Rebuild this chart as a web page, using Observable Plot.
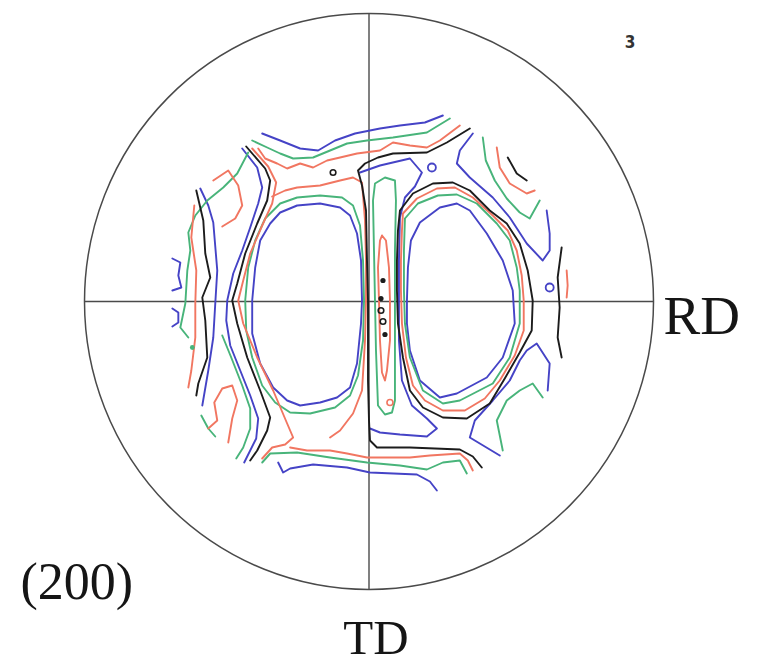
<!DOCTYPE html>
<html>
<head>
<meta charset="utf-8">
<script src="https://cdn.jsdelivr.net/npm/d3@7"></script>
<script src="https://cdn.jsdelivr.net/npm/@observablehq/plot@0.6"></script>
<style>
  html, body { margin: 0; padding: 0; background: #ffffff; }
  #chart { width: 778px; height: 664px; }
</style>
</head>
<body>
<div id="chart"></div>
<script>
// Pole figure coordinates: origin at the centre, radius ~286 units.
const blueLines = [
  [[-107,168],[-89,161],[-69,153],[-51,151],[-34,161],[-14,168],[11,173],[31,176],[56,179],[74,186]],
  [[-127,153],[-112,134],[-107,114],[-111,98],[-119,74],[-127,51],[-136,28],[-142,1],[-143,-19],[-139,-44],[-129,-69],[-119,-94],[-111,-117],[-113,-137],[-125,-161]],
  [[-169,113],[-161,96],[-156,79],[-152,31],[-154,-2],[-156,-36],[-161,-69],[-167,-104]],
  [[-197,43],[-189,39],[-191,26],[-188,14],[-197,11]],
  [[-197,-7],[-191,-11],[-191,-21],[-197,-25]],
  [[-9,129],[11,136],[41,143],[53,129],[46,115],[36,104],[31,84],[30,41],[30,1],[30,-39],[33,-79],[43,-104],[58,-117],[68,-127],[58,-135],[31,-133],[11,-131],[1,-127]],
  [[104,168],[91,151],[88,138],[101,124],[124,104],[141,84],[158,58],[174,41],[181,51],[181,68],[178,91]],
  [[131,-154],[101,-136],[106,-119],[124,-99],[141,-79],[151,-59],[158,-49],[168,-42],[181,-62],[179,-89]],
  [[-91,-161],[-86,-171],[-79,-167],[-56,-163],[-22,-166],[1,-171],[48,-173],[61,-180],[68,-189]]
];
const blueLoops = [
  [[-117,1],[-114,34],[-109,61],[-99,78],[-89,89],[-72,96],[-49,98],[-29,94],[-19,86],[-12,68],[-8,41],[-7,1],[-8,-22],[-12,-62],[-19,-86],[-32,-96],[-49,-101],[-69,-104],[-82,-99],[-96,-86],[-109,-62],[-117,-32]],
  [[38,1],[39,34],[42,61],[51,79],[71,94],[88,98],[101,91],[118,68],[134,41],[144,11],[146,-22],[134,-56],[118,-76],[88,-92],[71,-96],[51,-79],[41,-49],[38,-22]]
];
const blueRings = [[181,14],[63,134]];

const greenLines = [
  [[-117,161],[-102,154],[-89,148],[-76,143],[-56,144],[-39,151],[-22,158],[-2,161],[24,164],[58,169],[81,183]],
  [[-121,149],[-132,128],[-146,114],[-162,101],[-174,86],[-181,69],[-179,51],[-182,31],[-184,-2],[-189,-26],[-181,-36]],
  [[114,164],[117,141],[126,121],[138,103],[151,89],[161,83],[171,101]],
  [[134,-149],[128,-119],[138,-99],[151,-89],[164,-82],[174,-96]],
  [[-107,-161],[-99,-152],[-72,-151],[-39,-156],[-2,-161],[31,-164],[58,-168],[74,-161],[91,-159],[98,-172]],
  [[-147,-34],[-138,-56],[-127,-84],[-119,-107],[-119,-127],[-126,-146],[-133,-157]],
  [[-168,-114],[-161,-127],[-154,-135]]
];
const greenLoops = [
  [[-124,1],[-121,34],[-114,61],[-104,83],[-89,98],[-72,104],[-49,106],[-27,104],[-16,96],[-9,76],[-6,41],[-5,1],[-6,-39],[-11,-74],[-19,-94],[-34,-106],[-59,-112],[-79,-111],[-94,-101],[-107,-84],[-117,-56],[-123,-29]],
  [[4,101],[6,118],[16,124],[26,121],[27,101],[26,51],[26,1],[26,-49],[26,-99],[23,-111],[16,-113],[9,-104],[7,-49],[6,1],[5,51]],
  [[36,83],[49,98],[69,106],[88,107],[108,98],[128,78],[141,61],[148,34],[151,11],[151,-22],[141,-56],[124,-82],[91,-99],[74,-102],[54,-89],[41,-56],[36,-22],[35,11],[35,51]]
];
const greenSpots = [[-177,-46]];

const redLines = [
  [[-111,153],[-104,143],[-92,138],[-82,133],[-69,138],[-56,134],[-42,141],[-29,144],[-12,148],[11,151],[24,159],[41,156],[58,154],[71,161],[91,176]],
  [[-117,153],[-101,135],[-93,119],[-97,98],[-107,76],[-119,48],[-126,21],[-131,1],[-126,-22],[-112,-56],[-96,-89],[-82,-122],[-76,-136],[-84,-143],[-97,-146],[-107,-157]],
  [[-97,105],[-84,111],[-72,114],[-49,116],[-29,121],[-16,124],[-7,119],[-4,81],[-3,41],[-3,1],[-4,-39],[-7,-89],[-16,-112],[-29,-129],[-39,-136]],
  [[-79,-146],[-62,-149],[-39,-149],[-22,-152],[-2,-156],[41,-156],[61,-154],[91,-152],[99,-159],[104,-169]],
  [[128,154],[131,134],[141,118],[158,108],[166,111]],
  [[198,31],[199,16],[198,4]],
  [[-156,121],[-141,131],[-131,116],[-127,96],[-134,83],[-147,75]],
  [[-175,96],[-178,64],[-173,31],[-174,-2],[-174,-36],[-178,-69],[-181,-86]],
  [[-161,-127],[-152,-119],[-155,-101],[-147,-87],[-137,-84],[-132,-99],[-137,-117],[-141,-141]]
];
const redLoops = [
  [[34,88],[48,103],[68,113],[86,114],[104,104],[124,86],[139,71],[148,51],[153,26],[155,1],[155,-29],[146,-54],[131,-79],[116,-97],[96,-109],[74,-109],[56,-99],[44,-84],[37,-56],[33,-22],[32,11],[32,41],[33,71]],
  [[13,66],[17,61],[20,34],[21,1],[21,-39],[18,-69],[16,-79],[13,-71],[11,-39],[10,1],[9,34],[11,61]]
];
const redRings = [[21,-101]];

const blackLines = [
  [[101,173],[78,159],[58,149],[24,148],[9,144],[-4,138],[-11,131],[-7,116],[-3,91],[-2,41],[-1,1],[-1,-39],[-1,-79],[0,-119],[1,-139],[8,-146],[41,-146],[91,-148],[104,-155],[113,-166]],
  [[-123,155],[-104,133],[-99,121],[-102,101],[-112,78],[-124,48],[-132,18],[-137,1],[-132,-22],[-122,-56],[-109,-89],[-99,-116],[-102,-129],[-112,-149],[-119,-159]],
  [[-173,111],[-166,81],[-164,48],[-159,24],[-167,4],[-164,-19],[-162,-56],[-171,-82],[-173,-94]],
  [[193,54],[189,24],[191,-6],[189,-36],[193,-56]],
  [[139,144],[148,128],[158,121]]
];
const blackLoops = [
  [[31,91],[44,108],[64,118],[84,119],[101,111],[121,91],[138,78],[151,58],[159,31],[164,1],[163,-29],[151,-51],[136,-77],[121,-102],[98,-117],[74,-116],[54,-106],[41,-89],[34,-56],[29,-22],[28,11],[28,41],[29,71]]
];
const blackRings = [[-36,129],[12,-9],[14,-20]];
const blackDots = [[14,21],[12,3],[16,-33]];

const directionLabels = ["RD", "TD"];
const planeLabel = ["(200)"];
const cornerLabel = ["3"];

const COLORS = {blue: "#4543c6", green: "#48b47a", red: "#f17661", black: "#1c1c1c"};

function toRows(lines, loops, tag) {
  const rows = [];
  lines.forEach((pts, i) => pts.forEach(([x, y]) => rows.push({x, y, id: tag + "o" + i})));
  loops.forEach((pts, i) => [...pts, pts[0]].forEach(([x, y]) => rows.push({x, y, id: tag + "c" + i})));
  return rows;
}

const lineMark = (lines, loops, tag) =>
  Plot.line(toRows(lines, loops, tag), {x: "x", y: "y", z: "id", stroke: COLORS[tag], strokeWidth: 1.9, strokeLinejoin: "round", strokeLinecap: "round"});

const chart = Plot.plot({
  width: 778,
  height: 664,
  marginLeft: 84,
  marginRight: 125,
  marginTop: 13,
  marginBottom: 75,
  x: {domain: [-285, 285], axis: null},
  y: {domain: [-288, 288], axis: null},
  style: {background: "#ffffff"},
  marks: [
    Plot.ruleY([0], {stroke: "#4a4a4a", strokeWidth: 1.4}),
    Plot.ruleX([0], {stroke: "#4a4a4a", strokeWidth: 1.4}),
    Plot.frame({rx: 284.5, ry: 288, stroke: "#4a4a4a", strokeWidth: 1.5}),
    lineMark(blueLines, blueLoops, "blue"),
    lineMark(greenLines, greenLoops, "green"),
    lineMark(redLines, redLoops, "red"),
    lineMark(blackLines, blackLoops, "black"),
    Plot.dot(blueRings, {x: d => d[0], y: d => d[1], r: 4, stroke: COLORS.blue, strokeWidth: 1.8}),
    Plot.dot(redRings, {x: d => d[0], y: d => d[1], r: 3, stroke: COLORS.red, strokeWidth: 1.6}),
    Plot.dot(greenSpots, {x: d => d[0], y: d => d[1], r: 2.4, fill: COLORS.green, stroke: null}),
    Plot.dot(blackRings, {x: d => d[0], y: d => d[1], r: 2.8, stroke: COLORS.black, strokeWidth: 1.6}),
    Plot.dot(blackDots, {x: d => d[0], y: d => d[1], r: 2.6, fill: COLORS.black, stroke: null}),
    Plot.text([directionLabels[0]], {text: d => d, frameAnchor: "right", textAnchor: "start", dx: 10, dy: 15, fontSize: 55, fontFamily: "Liberation Serif", fill: "#151515"}),
    Plot.text([directionLabels[1]], {text: d => d, frameAnchor: "bottom", dx: 7, dy: 64, fontSize: 49, fontFamily: "Liberation Serif", fill: "#151515"}),
    Plot.text(planeLabel, {text: d => d, frameAnchor: "bottom-left", textAnchor: "start", dx: -64, dy: 9, fontSize: 52, fontFamily: "Liberation Serif", fill: "#151515"}),
    Plot.text(cornerLabel, {text: d => d, frameAnchor: "top-right", dx: -18, dy: 22, fontSize: 17, fontWeight: "bold", fontFamily: "DejaVu Sans Condensed", fill: "#333"})
  ]
});
document.getElementById("chart").appendChild(chart);
</script>
</body>
</html>
